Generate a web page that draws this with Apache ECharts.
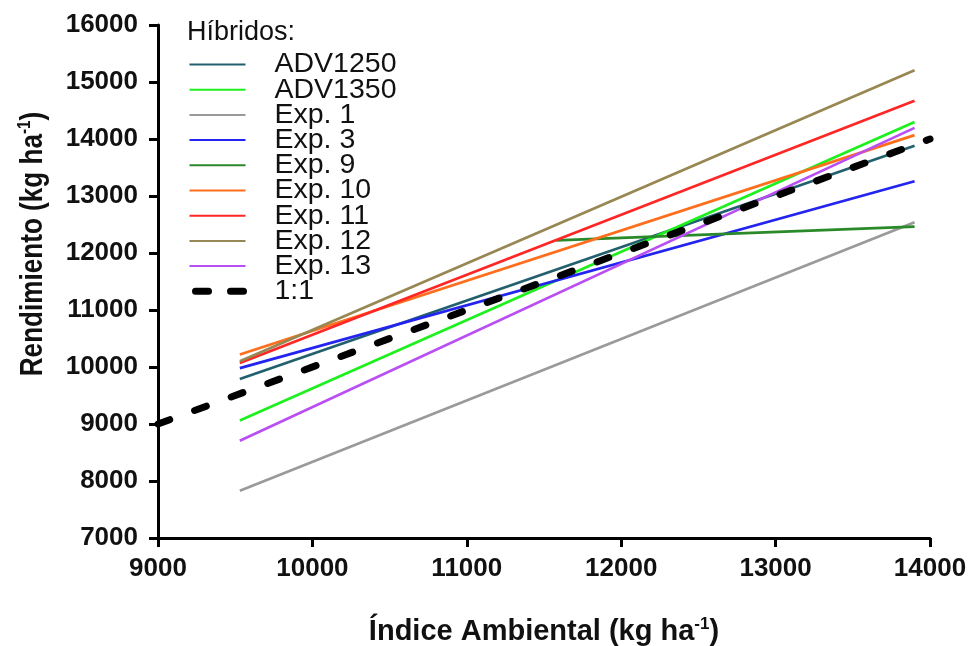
<!DOCTYPE html>
<html>
<head>
<meta charset="utf-8">
<script src="https://cdn.jsdelivr.net/npm/echarts@6/dist/echarts.min.js"></script>
<style>
  html, body { margin: 0; padding: 0; background: #fff; }
  #chart { width: 970px; height: 646px; }
</style>
</head>
<body>
<div id="chart"></div>
<script>
// Fitted yield responses of each hybrid to the environmental index
const hybrids = ['ADV1250', 'ADV1350', 'Exp. 1', 'Exp. 3', 'Exp. 9', 'Exp. 10', 'Exp. 11', 'Exp. 12', 'Exp. 13'];
const colors  = ['#22606e', '#1ef01e', '#9a9a9a', '#2424f0', '#2a8a2a', '#ff6e1c', '#ff2626', '#978752', '#b94ef2'];
const xFrom = [9530, 9530, 9530, 9530, 11580, 9530, 9530, 9530, 9530];
const xTo   = [13900, 13900, 13900, 13900, 13900, 13900, 13900, 13900, 13900];
const yFrom = [9790, 9060, 7830, 9980, 12220, 10220, 10070, 10100, 8705];
const yTo   = [13880, 14300, 12540, 13260, 12462, 14068, 14670, 15205, 14195];

// 1:1 reference line
const identityName = '1:1';
const identityX = [9000, 14000];

// Axis ranges and ticks
const xMin = 9000, xMax = 14000, xStep = 1000;
const yMin = 7000, yMax = 16000, yStep = 1000;

const FONT = "'Liberation Sans', Arial, Helvetica, sans-serif";

const series = hybrids.map((name, i) => ({
  name: name,
  type: 'line',
  symbol: 'none',
  silent: true,
  lineStyle: { color: colors[i], width: 2.7 },
  itemStyle: { color: colors[i] },
  data: [[xFrom[i], yFrom[i]], [xTo[i], yTo[i]]]
}));

series.push({
  name: identityName,
  type: 'line',
  symbol: 'none',
  silent: true,
  z: 5,
  lineStyle: { color: '#000', width: 7, type: [12.5, 26.5], cap: 'round' },
  itemStyle: { color: '#000' },
  data: identityX.map(v => [v, v])
});

const legendData = hybrids.map(n => ({ name: n }));
legendData.push({
  name: identityName,
  lineStyle: { color: '#000', width: 7, type: [13, 22], cap: 'round', dashOffset: -6 }
});

const supStyle = { fontFamily: FONT, fontWeight: 'bold', fontSize: 17, fill: '#111', color: '#111', verticalAlign: 'top', lineHeight: 17 };

const chart = echarts.init(document.getElementById('chart'), null, { renderer: 'canvas' });
chart.setOption({
  animation: false,
  backgroundColor: '#fff',
  textStyle: { fontFamily: FONT },
  title: {
    text: 'Híbridos:',
    left: 187,
    top: 19,
    padding: 0,
    textStyle: { fontFamily: FONT, fontWeight: 'normal', fontSize: 27, color: '#111' }
  },
  legend: {
    orient: 'vertical',
    left: 186,
    top: 50,
    padding: 0,
    itemWidth: 56,
    itemHeight: 1,
    itemGap: -3.8,
    selectedMode: false,
    itemStyle: { opacity: 0 },
    data: legendData,
    textStyle: {
      fontFamily: FONT,
      fontSize: 28.5,
      color: '#111',
      padding: [0, 0, 0, 24]
    }
  },
  // Vertical axis title, set as free text so its proportions can be tuned
  graphic: [{
    type: 'text',
    x: 33,
    y: 244,
    rotation: Math.PI / 2,
    scaleX: 0.9,
    scaleY: 1.08,
    silent: true,
    style: {
      text: '{t|Rendimiento (kg ha}{s|-1}{t|)}',
      align: 'center',
      verticalAlign: 'middle',
      rich: {
        t: { fontFamily: FONT, fontWeight: 'bold', fontSize: 29, fill: '#111', lineHeight: 32 },
        s: supStyle
      }
    }
  }],
  grid: { left: 158, right: 40, top: 25, bottom: 108, containLabel: false, outerBoundsMode: 'none' },
  xAxis: {
    type: 'value',
    min: xMin, max: xMax, interval: xStep,
    name: '{t|Índice Ambiental (kg ha}{s|-1}{t|)}',
    nameLocation: 'middle',
    nameGap: 78,
    nameTextStyle: {
      rich: {
        t: { fontFamily: FONT, fontWeight: 'bold', fontSize: 29, color: '#111', lineHeight: 32 },
        s: supStyle
      }
    },
    splitLine: { show: false },
    axisLine: { onZero: false, lineStyle: { color: '#000', width: 3 } },
    axisTick: { length: 9, lineStyle: { color: '#000', width: 3 } },
    axisLabel: {
      margin: 18, fontFamily: FONT, fontWeight: 'bold', fontSize: 26, color: '#111',
      formatter: v => String(v)
    }
  },
  yAxis: {
    type: 'value',
    min: yMin, max: yMax, interval: yStep,
    splitLine: { show: false },
    axisLine: { onZero: false, lineStyle: { color: '#000', width: 3 } },
    axisTick: { length: 9, lineStyle: { color: '#000', width: 3 } },
    axisLabel: {
      margin: 20, fontFamily: FONT, fontWeight: 'bold', fontSize: 26, color: '#111',
      formatter: v => String(v)
    }
  },
  series: series
});
</script>
</body>
</html>
